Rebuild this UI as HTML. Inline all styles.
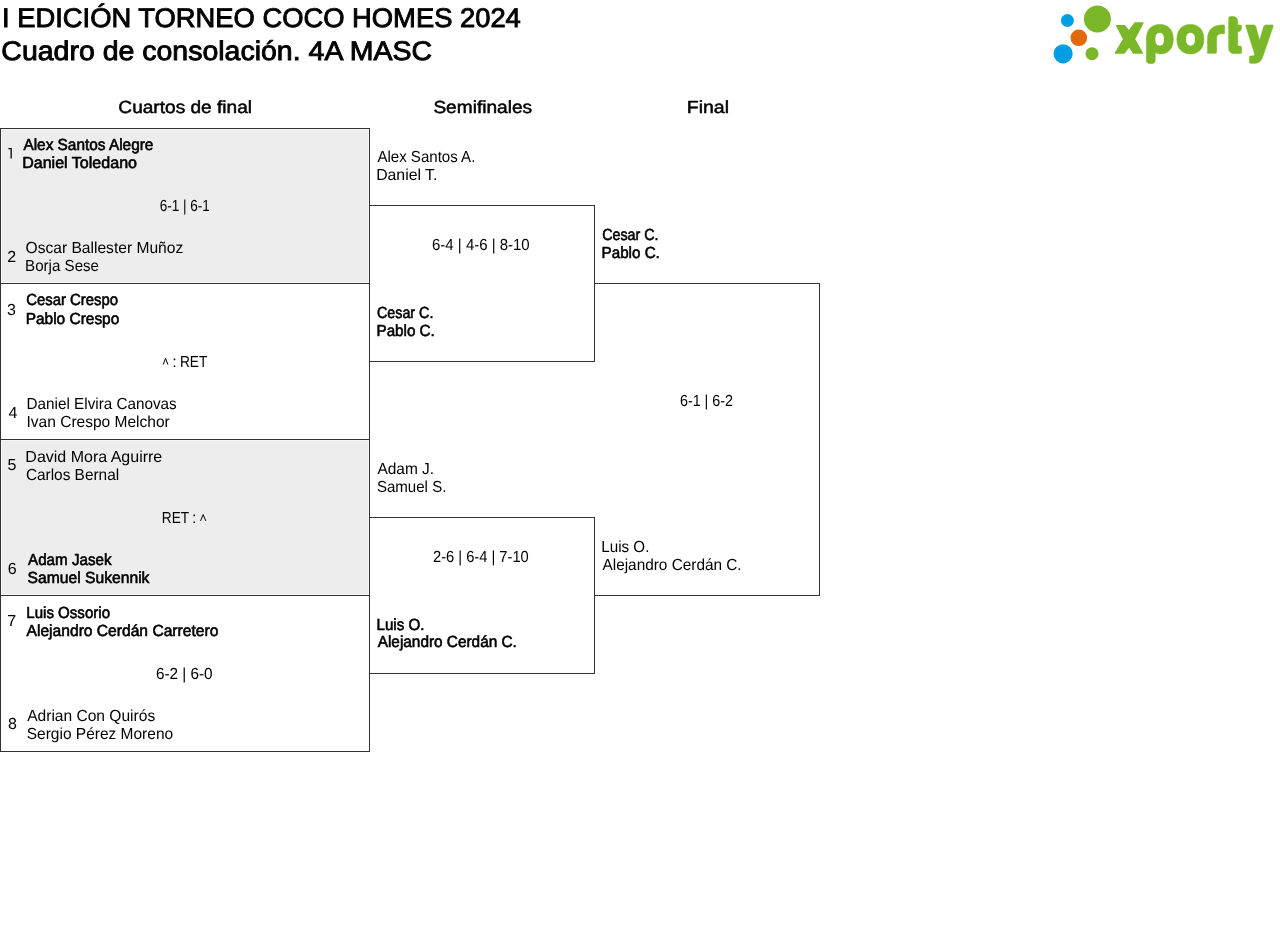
<!DOCTYPE html>
<html><head><meta charset="utf-8"><title>Cuadro</title>
<style>
html,body{margin:0;padding:0;background:#fff;width:1280px;height:949px;overflow:hidden}
svg{display:block;will-change:transform}
text{font-family:"Liberation Sans",sans-serif;fill:#000;text-rendering:geometricPrecision}
</style></head><body>
<svg width="1280" height="949" viewBox="0 0 1280 949">
<rect x="1.6" y="129.6" width="366.8" height="152.8" fill="#ededed"/>
<rect x="1.6" y="440.6" width="366.8" height="153.8" fill="#ededed"/>
<rect x="0" y="128" width="370" height="1" fill="#333"/>
<rect x="0" y="283" width="370" height="1" fill="#333"/>
<rect x="0" y="439" width="370" height="1" fill="#333"/>
<rect x="0" y="595" width="370" height="1" fill="#333"/>
<rect x="0" y="751" width="370" height="1" fill="#333"/>
<rect x="0" y="128" width="1" height="624" fill="#333"/>
<rect x="369" y="128" width="1" height="624" fill="#333"/>
<rect x="369" y="205" width="226" height="1" fill="#333"/>
<rect x="369" y="361" width="226" height="1" fill="#333"/>
<rect x="594" y="205" width="1" height="157" fill="#333"/>
<rect x="369" y="517" width="226" height="1" fill="#333"/>
<rect x="369" y="673" width="226" height="1" fill="#333"/>
<rect x="594" y="517" width="1" height="157" fill="#333"/>
<rect x="594" y="283" width="226" height="1" fill="#333"/>
<rect x="594" y="595" width="226" height="1" fill="#333"/>
<rect x="819" y="283" width="1" height="313" fill="#333"/>
<text x="2.07" y="27.00" font-size="27" font-weight="400" textLength="518.77" lengthAdjust="spacingAndGlyphs" stroke="#000" stroke-width="0.9">I EDICIÓN TORNEO COCO HOMES 2024</text>
<text x="1.37" y="59.75" font-size="27" font-weight="400" textLength="430.66" lengthAdjust="spacingAndGlyphs" stroke="#000" stroke-width="0.9">Cuadro de consolación. 4A MASC</text>
<text x="118.36" y="113.10" font-size="17.5" font-weight="400" textLength="133.65" lengthAdjust="spacingAndGlyphs" stroke="#000" stroke-width="0.5">Cuartos de final</text>
<text x="433.40" y="113.00" font-size="17.5" font-weight="400" textLength="98.69" lengthAdjust="spacingAndGlyphs" stroke="#000" stroke-width="0.5">Semifinales</text>
<text x="686.72" y="113.00" font-size="17.5" font-weight="400" textLength="42.31" lengthAdjust="spacingAndGlyphs" stroke="#000" stroke-width="0.5">Final</text>
<text x="23.40" y="150.00" font-size="16" font-weight="400" textLength="130.02" lengthAdjust="spacingAndGlyphs" stroke="#000" stroke-width="0.6">Alex Santos Alegre</text>
<text x="22.15" y="167.80" font-size="16" font-weight="400" textLength="114.90" lengthAdjust="spacingAndGlyphs" stroke="#000" stroke-width="0.6">Daniel Toledano</text>
<text x="159.67" y="210.80" font-size="16" font-weight="400" textLength="50.08" lengthAdjust="spacingAndGlyphs">6-1 | 6-1</text>
<text x="7.35" y="261.90" font-size="16" font-weight="400" textLength="8.90" lengthAdjust="spacingAndGlyphs">2</text>
<text x="25.52" y="252.80" font-size="16" font-weight="400" textLength="157.71" lengthAdjust="spacingAndGlyphs">Oscar Ballester Muñoz</text>
<text x="25.07" y="270.80" font-size="16" font-weight="400" textLength="73.94" lengthAdjust="spacingAndGlyphs">Borja Sese</text>
<text x="7.07" y="314.60" font-size="16" font-weight="400" textLength="8.90" lengthAdjust="spacingAndGlyphs">3</text>
<text x="26.20" y="305.25" font-size="16" font-weight="400" textLength="91.85" lengthAdjust="spacingAndGlyphs" stroke="#000" stroke-width="0.6">Cesar Crespo</text>
<text x="25.69" y="323.80" font-size="16" font-weight="400" textLength="93.63" lengthAdjust="spacingAndGlyphs" stroke="#000" stroke-width="0.6">Pablo Crespo</text>
<text x="172.32" y="366.60" font-size="16" font-weight="400" textLength="4.45" lengthAdjust="spacingAndGlyphs">:</text>
<text x="179.93" y="366.60" font-size="16" font-weight="400" textLength="27.51" lengthAdjust="spacingAndGlyphs">RET</text>
<text x="8.45" y="417.75" font-size="16" font-weight="400" textLength="8.90" lengthAdjust="spacingAndGlyphs">4</text>
<text x="26.56" y="408.75" font-size="16" font-weight="400" textLength="150.17" lengthAdjust="spacingAndGlyphs">Daniel Elvira Canovas</text>
<text x="26.54" y="426.60" font-size="16" font-weight="400" textLength="143.24" lengthAdjust="spacingAndGlyphs">Ivan Crespo Melchor</text>
<text x="7.38" y="470.40" font-size="16" font-weight="400" textLength="8.90" lengthAdjust="spacingAndGlyphs">5</text>
<text x="25.36" y="461.90" font-size="16" font-weight="400" textLength="136.89" lengthAdjust="spacingAndGlyphs">David Mora Aguirre</text>
<text x="25.88" y="479.75" font-size="16" font-weight="400" textLength="93.24" lengthAdjust="spacingAndGlyphs">Carlos Bernal</text>
<text x="161.83" y="522.90" font-size="16" font-weight="400" textLength="27.30" lengthAdjust="spacingAndGlyphs">RET</text>
<text x="191.97" y="522.90" font-size="16" font-weight="400" textLength="4.45" lengthAdjust="spacingAndGlyphs">:</text>
<text x="7.65" y="573.50" font-size="16" font-weight="400" textLength="8.90" lengthAdjust="spacingAndGlyphs">6</text>
<text x="28.05" y="564.70" font-size="16" font-weight="400" textLength="83.51" lengthAdjust="spacingAndGlyphs" stroke="#000" stroke-width="0.6">Adam Jasek</text>
<text x="27.56" y="582.50" font-size="16" font-weight="400" textLength="121.89" lengthAdjust="spacingAndGlyphs" stroke="#000" stroke-width="0.6">Samuel Sukennik</text>
<text x="7.15" y="626.40" font-size="16" font-weight="400" textLength="8.90" lengthAdjust="spacingAndGlyphs">7</text>
<text x="26.32" y="617.90" font-size="16" font-weight="400" textLength="83.69" lengthAdjust="spacingAndGlyphs" stroke="#000" stroke-width="0.6">Luis Ossorio</text>
<text x="26.55" y="635.75" font-size="16" font-weight="400" textLength="191.78" lengthAdjust="spacingAndGlyphs" stroke="#000" stroke-width="0.6">Alejandro Cerdán Carretero</text>
<text x="155.88" y="678.50" font-size="16" font-weight="400" textLength="56.75" lengthAdjust="spacingAndGlyphs">6-2 | 6-0</text>
<text x="8.07" y="729.10" font-size="16" font-weight="400" textLength="8.90" lengthAdjust="spacingAndGlyphs">8</text>
<text x="27.20" y="720.70" font-size="16" font-weight="400" textLength="127.99" lengthAdjust="spacingAndGlyphs">Adrian Con Quirós</text>
<text x="26.72" y="738.50" font-size="16" font-weight="400" textLength="146.41" lengthAdjust="spacingAndGlyphs">Sergio Pérez Moreno</text>
<text x="377.40" y="162.10" font-size="16" font-weight="400" textLength="97.95" lengthAdjust="spacingAndGlyphs">Alex Santos A.</text>
<text x="376.17" y="180.00" font-size="16" font-weight="400" textLength="61.25" lengthAdjust="spacingAndGlyphs">Daniel T.</text>
<text x="432.05" y="249.70" font-size="16" font-weight="400" textLength="97.62" lengthAdjust="spacingAndGlyphs">6-4 | 4-6 | 8-10</text>
<text x="377.03" y="317.75" font-size="16" font-weight="400" textLength="56.36" lengthAdjust="spacingAndGlyphs" stroke="#000" stroke-width="0.6">Cesar C.</text>
<text x="376.51" y="335.60" font-size="16" font-weight="400" textLength="58.26" lengthAdjust="spacingAndGlyphs" stroke="#000" stroke-width="0.6">Pablo C.</text>
<text x="377.40" y="473.75" font-size="16" font-weight="400" textLength="56.75" lengthAdjust="spacingAndGlyphs">Adam J.</text>
<text x="376.93" y="491.90" font-size="16" font-weight="400" textLength="69.43" lengthAdjust="spacingAndGlyphs">Samuel S.</text>
<text x="433.01" y="561.90" font-size="16" font-weight="400" textLength="95.75" lengthAdjust="spacingAndGlyphs">2-6 | 6-4 | 7-10</text>
<text x="376.52" y="629.60" font-size="16" font-weight="400" textLength="47.95" lengthAdjust="spacingAndGlyphs" stroke="#000" stroke-width="0.6">Luis O.</text>
<text x="377.70" y="647.40" font-size="16" font-weight="400" textLength="139.19" lengthAdjust="spacingAndGlyphs" stroke="#000" stroke-width="0.6">Alejandro Cerdán C.</text>
<text x="602.13" y="239.60" font-size="16" font-weight="400" textLength="56.36" lengthAdjust="spacingAndGlyphs" stroke="#000" stroke-width="0.6">Cesar C.</text>
<text x="601.61" y="257.50" font-size="16" font-weight="400" textLength="58.21" lengthAdjust="spacingAndGlyphs" stroke="#000" stroke-width="0.6">Pablo C.</text>
<text x="679.93" y="405.70" font-size="16" font-weight="400" textLength="53.05" lengthAdjust="spacingAndGlyphs">6-1 | 6-2</text>
<text x="601.31" y="551.90" font-size="16" font-weight="400" textLength="48.06" lengthAdjust="spacingAndGlyphs">Luis O.</text>
<text x="602.50" y="569.75" font-size="16" font-weight="400" textLength="139.14" lengthAdjust="spacingAndGlyphs">Alejandro Cerdán C.</text>
<path d="M163.2,364.6 L165.55,358.4 L167.9,364.6 M200.5,520.9 L203.15,514.6 L205.8,520.9" fill="none" stroke="#000" stroke-width="1.0" stroke-linejoin="miter"/><path d="M8.4,148 H11.8 V158.6 H10.5 V149.2 H8.4 Z" fill="#000"/>
<g id="logo">
<circle cx="1067.4" cy="20.5" r="6.5" fill="#009ee3"/>
<circle cx="1097.4" cy="19" r="13.5" fill="#7ab829"/>
<circle cx="1078.8" cy="37.8" r="8.3" fill="#e2690b"/>
<circle cx="1063.1" cy="53.8" r="9.6" fill="#009ee3"/>
<circle cx="1092" cy="53.7" r="6.5" fill="#7ab829"/>
<g fill="#7ab829" stroke="#7ab829" stroke-width="0.6" stroke-linejoin="round">
<path d="M1116.6,25.6 L1124.7,25.6 L1128.9,31.1 L1135,22.9 L1143,22.9 L1134.5,39.1 L1142.4,53.1 L1133.5,53.1 L1129.1,46.6 L1124.2,53.1 L1115.4,53.1 L1123.6,39.1 Z" stroke-width="1.3"/>
<path d="M1146.4,39.2 C1146.4,29.5 1151.5,24.4 1159.9,24.4 C1168.3,24.4 1173.3,30 1173.3,39.2 C1173.3,48.4 1168.3,53.9 1160.5,53.9 C1158.5,53.9 1156.6,53.3 1155.2,52.6 L1155.2,60.6 C1155.2,62.3 1154,63.5 1152.3,63.5 L1149.3,63.5 C1147.6,63.5 1146.4,62.3 1146.4,60.6 Z"/>
<path d="M1176.9,39.2 C1176.9,29.5 1182.5,24.4 1190.4,24.4 C1198.3,24.4 1203.9,29.5 1203.9,39.2 C1203.9,48.9 1198.3,53.9 1190.4,53.9 C1182.5,53.9 1176.9,48.9 1176.9,39.2 Z"/>
<path d="M1207.6,53.3 L1207.6,39 C1207.6,30 1213,25 1222,25 L1223.6,25 Q1224.6,25 1224.6,26 L1224.6,32.7 Q1224.6,33.7 1223.6,33.7 L1221,33.7 C1218.5,33.7 1216.6,35.6 1216.6,38 L1216.6,52.3 Q1216.6,53.3 1215.6,53.3 L1208.6,53.3 Q1207.6,53.3 1207.6,52.3 Z"/>
<path d="M1228.7,18.3 Q1228.7,16.5 1230.5,16.5 L1233,16.5 C1235.8,16.5 1237.7,18.4 1237.7,21.2 L1237.7,25 L1240.2,25 Q1241.6,25 1241.6,26.4 L1241.6,27.5 C1241.6,30 1240.2,31.8 1237.7,31.8 L1237.7,46.1 L1240.2,46.1 Q1241.6,46.1 1241.6,47.5 L1241.6,52.2 Q1241.6,53.6 1240.2,53.6 L1234,53.6 C1230.8,53.6 1228.7,51.5 1228.7,48.3 Z"/>
<path d="M1245.8,26 Q1245.4,25 1246.6,25 L1253.8,25 Q1255.3,25 1255.8,26.6 L1259.6,40.4 L1263.6,26.8 Q1264.3,25 1266.5,25 L1272.4,25 Q1273.6,25 1273.2,26.2 L1262.8,56.5 C1261.5,60.5 1259.2,63.3 1255,63.3 L1250.6,63.3 Q1249.4,63.3 1249.4,62.1 L1249.4,57.3 Q1249.4,56 1250.7,56 L1252.3,56 Q1254.4,56 1254.7,54.2 Z"/>
</g>
<rect x="1155.4" y="32.7" width="8.5" height="13.1" rx="4.2" ry="5" fill="#fff"/>
<rect x="1186.2" y="32.7" width="8.7" height="13.1" rx="4.3" ry="5" fill="#fff"/>
</g>

</svg>
</body></html>
